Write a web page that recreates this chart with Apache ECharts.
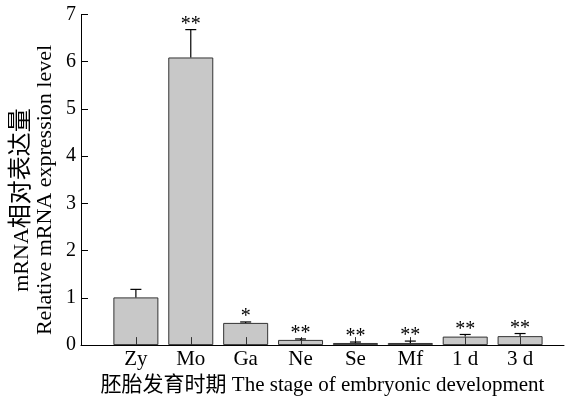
<!DOCTYPE html>
<html>
<head>
<meta charset="utf-8">
<script src="https://cdn.jsdelivr.net/npm/echarts@6/dist/echarts.min.js"></script>
<style>html,body{margin:0;padding:0;background:#fff;}#c{width:566px;height:401px;}</style>
</head>
<body>
<div id="c"></div>
<script>
var categories = ['Zy', 'Mo', 'Ga', 'Ne', 'Se', 'Mf', '1 d', '3 d'];
var means = [1.01, 6.09, 0.47, 0.11, 0.045, 0.045, 0.18, 0.19];
var errors = [0.17, 0.59, 0.02, 0.02, 0.02, 0.04, 0.045, 0.055];
var sig = ['', '**', '*', '**', '**', '**', '**', '**'];
var yTicks = [0, 1, 2, 3, 4, 5, 6, 7];

var SERIF = '"Liberation Serif", "Times New Roman", "Noto Sans CJK SC", serif';

var barData = means.map(function (m, i) { return [i + 1, m]; });
var errData = means.map(function (m, i) { return [i + 1, m, m + errors[i], i]; });

var chart = echarts.init(document.getElementById('c'), null, {renderer: 'canvas'});
chart.setOption({
  animation: false,
  backgroundColor: '#fff',
  grid: {left: 81, right: 2, top: 14.5, bottom: 51.5, containLabel: false},
  xAxis: {
    type: 'value', min: 0, max: 8.8, interval: 1,
    splitLine: {show: false},
    axisLine: {show: true, lineStyle: {color: '#000', width: 1}},
    axisTick: {show: false},
    axisLabel: {
      show: true, margin: 4, color: '#000', fontFamily: SERIF, fontSize: 21,
      showMaxLabel: false,
      formatter: function (v) { var k = Math.round(v); return (k >= 1 && k <= categories.length) ? categories[k - 1] : ''; }
    },
    name: '胚胎发育时期 The stage of embryonic development',
    nameLocation: 'middle', nameGap: 25,
    nameTextStyle: {color: '#000', fontFamily: SERIF, fontSize: 21}
  },
  yAxis: {
    type: 'value', min: yTicks[0], max: yTicks[yTicks.length - 1], interval: 1,
    splitLine: {show: false},
    axisLine: {show: true, lineStyle: {color: '#000', width: 1}},
    axisTick: {show: true, inside: true, length: 7, lineStyle: {color: '#000', width: 1}},
    axisLabel: {margin: 5, color: '#000', fontFamily: SERIF, fontSize: 20}
  },
  graphic: [
    {type: 'text', x: 22, y: 200, rotation: Math.PI / 2,
     style: {text: '{a|mRNA}{b|相对表达量}', align: 'center', verticalAlign: 'middle',
       rich: {a: {fontFamily: SERIF, fontSize: 22, fill: '#000'}, b: {fontFamily: SERIF, fontSize: 24, fill: '#000'}}}},
    {type: 'text', x: 45, y: 190, rotation: Math.PI / 2,
     style: {text: 'Relative mRNA expression level', align: 'center', verticalAlign: 'middle',
       fontFamily: SERIF, fontSize: 22, fill: '#000'}}
  ],
  series: [
    {
      type: 'bar', data: barData, barWidth: 45, z: 2,
      itemStyle: {color: '#c8c8c8', borderColor: '#333', borderWidth: 1}
    },
    {
      type: 'custom', z: 5, data: errData,
      renderItem: function (params, api) {
        var x = api.value(0);
        var p0 = api.coord([x, api.value(1)]);
        var p1 = api.coord([x, api.value(2)]);
        var base = api.coord([x, 0]);
        var idx = api.value(3);
        var cap = 5.5;
        var tx = Math.round(base[0]) + 0.5;
        return {
          type: 'group',
          children: [
            {type: 'line', shape: {x1: tx, y1: base[1], x2: tx, y2: base[1] - 8}, style: {stroke: '#333', lineWidth: 1}},
            {type: 'line', shape: {x1: p0[0], y1: p0[1], x2: p1[0], y2: p1[1]}, style: {stroke: '#000', lineWidth: 1.2}},
            {type: 'line', shape: {x1: p1[0] - cap, y1: p1[1], x2: p1[0] + cap, y2: p1[1]}, style: {stroke: '#000', lineWidth: 1.2}},
            {type: 'text', x: p1[0], y: p1[1] - 5,
             style: {text: sig[idx], align: 'center', verticalAlign: 'middle', fontFamily: SERIF, fontSize: 20, fill: '#000'}}
          ]
        };
      }
    }
  ]
});
</script>
</body>
</html>
